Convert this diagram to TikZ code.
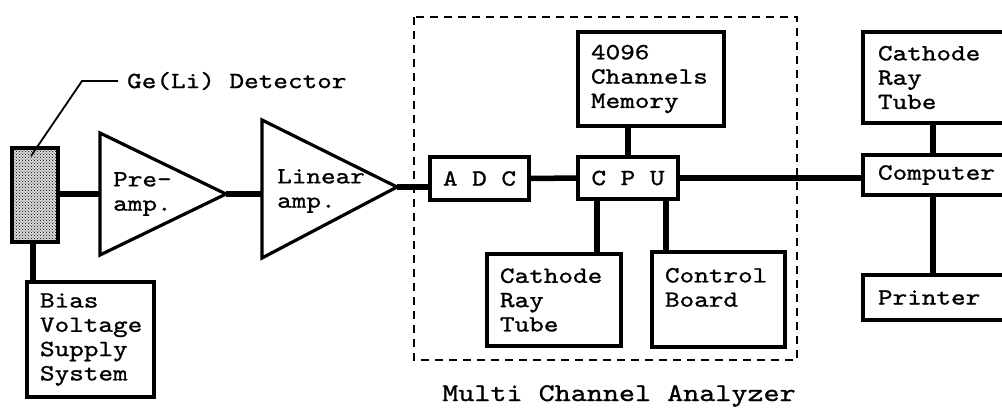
\documentclass[tikz,border=0pt]{standalone}
\usepackage{fontspec}
\newfontfamily\typew{lmmono10-regular.otf}[FakeStretch=1.2,FakeBold=1]
\usetikzlibrary{patterns}

\tikzset{
  blk/.style={draw, line width=3.2pt, inner xsep=13pt, inner ysep=0pt, align=left,
    font=\typew\fontsize{23.2}{24.3}\selectfont},
  wire/.style={line width=5.5pt},
  txt/.style={inner sep=0pt, align=left, font=\typew\fontsize{23.2}{24.3}\selectfont},
}

\begin{document}
\begin{tikzpicture}[x=1pt,y=1pt,yscale=-1]
\useasboundingbox (0,0) rectangle (1002,408);
\clip (0,0) rectangle (1002,408);

%Shape: Detector
\node [draw, line width=3.5pt, preaction={fill=gray!30}, pattern=crosshatch dots, minimum width=46pt, minimum height=94pt, inner sep=0pt] (det) at (35,195) {};
%Shape: Bias box
\node [blk, text width=101pt, minimum height=115pt] (bias) at (90.5,339.5) {Bias\\Voltage\\Supply\\System};

%Shape: Triangles
\draw [line width=3.2pt] (100,133) -- (226,194) coordinate (pre-out) -- (100,255) -- cycle ;
\coordinate (pre-in) at (100,194);
\draw [line width=3.2pt] (262,120) -- (397,187) coordinate (lin-out) -- (262,258) -- cycle ;
\coordinate (lin-in) at (262,192);
% Text Node
\node [txt, anchor=west] (pretxt) at (113,194) {Pre-\\amp.};
% Text Node
\node [txt, anchor=west] (lintxt) at (277,191) {Linear\\amp.};

%Shape: Multi channel analyzer frame
\draw [line width=1.4pt, dash pattern=on 8pt off 6pt] (414,17) rectangle (797,360) ;
\node [blk, align=center, inner xsep=0pt, minimum width=99pt, minimum height=43pt] (adc) at (479.5,178.5) {A D C};
\node [blk, align=center, inner xsep=0pt, minimum width=100pt, minimum height=42pt] (cpu) at (628,178) {C P U};
\node [blk, text width=120pt, minimum height=94pt] (mem) at (651,79) {4096\\Channels\\Memory};
\node [blk, text width=108pt, minimum height=92pt] (crta) at (554,300) {Cathode\\Ray\\Tube};
\node [blk, text width=107pt, minimum height=95pt] (ctrl) at (718.5,299.5) {Control\\Board\\\mbox{}};

%Shape: Computer side
\node [blk, inner xsep=15pt, text width=127pt, minimum height=40pt] (comp) at (941.5,175) {Computer};
\node [blk, inner xsep=15pt, text width=127pt, minimum height=91pt] (crtb) at (941.5,77.5) {Cathode\\Ray\\Tube};
\node [blk, inner xsep=15pt, text width=127pt, minimum height=45pt] (prn) at (941.5,297.5) {Printer};

%Straight Lines
\draw [wire] (det.south -| 33,0) -- (bias.north -| 33,0) ;
\draw [wire] (det.east |- pre-in) -- (pre-in) ;
\draw [wire] (pre-out) -- (pre-out -| lin-in) ;
\draw [wire] (lin-out) -- (lin-out -| adc.west) ;
\draw [wire] (adc.east) -- (cpu.west) ;
\draw [wire] (cpu.north) -- (cpu.north |- mem.south) ;
\draw [wire] ([xshift=-31pt]cpu.south) -- ([xshift=-31pt]cpu.south |- crta.north) ;
\draw [wire] ([xshift=38pt]cpu.south) -- ([xshift=38pt]cpu.south |- ctrl.north) ;
\draw [wire] (cpu.east) -- (cpu.east -| comp.west) ;
\draw [wire] ([xshift=-8.5pt]comp.north) -- ([xshift=-8.5pt]crtb.south) ;
\draw [wire] ([xshift=-8.5pt]comp.south) -- ([xshift=-8.5pt]prn.north) ;

% Text Node
\node [txt, anchor=west] (gelbl) at (127,81) {Ge(Li) Detector};
\draw [line width=1.8pt] ([xshift=-9pt]gelbl.west) -- (82,81) -- (31,156) ;
% Text Node
\node [txt, anchor=base, font=\typew\fontsize{25.5}{25.5}\selectfont] (mcalbl) at (619,401) {Multi Channel Analyzer};

\end{tikzpicture}
\end{document}
